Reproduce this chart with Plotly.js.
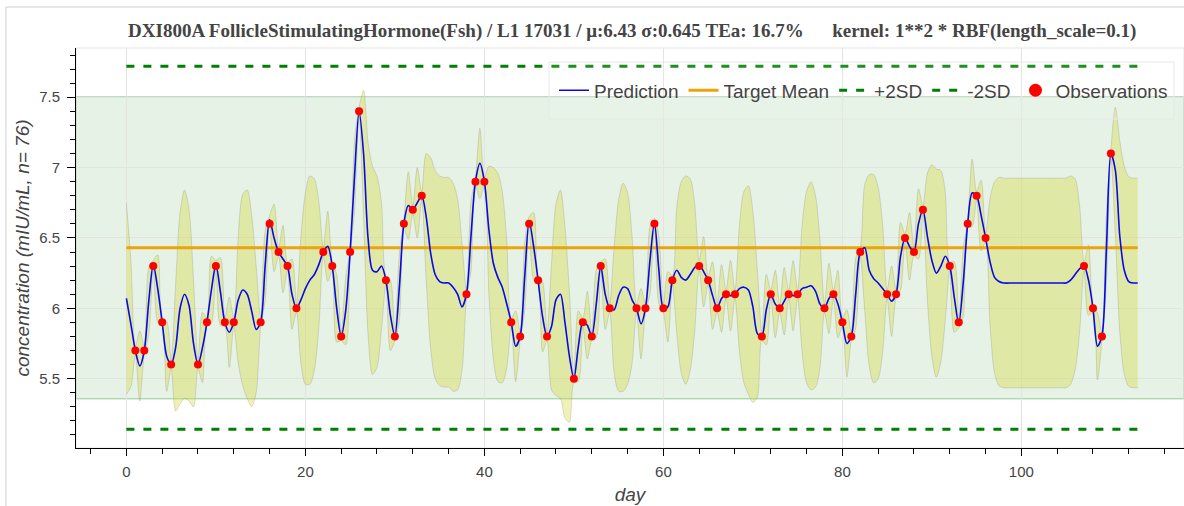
<!DOCTYPE html>
<html>
<head>
<meta charset="utf-8">
<script src="https://cdn.plot.ly/plotly-3.0.1.min.js"></script>
<style>
html,body{margin:0;padding:0;background:#fff;}
#chart{width:1184px;height:506px;}
</style>
</head>
<body>
<div id="chart"></div>
<script>
// ---- statistics from the title ----
const mu = 6.43;
const sigma = 0.645;
const teaPct = 16.7;
const dayStart = 0;
const dayEnd = 113;

// ---- observations (day, concentration) ----
const obsDay = [1,2,3,4,5, 8,9,10,11,12, 15,16,17,18,19, 22,23,24,25,26, 29,30,31,32,33,
  38,39,40, 43,44,45,46,47, 50,51,52,53,54, 57,58,59,60,61, 64,65,66,67,68,
  71,72,73,74,75, 78,79,80,81,82, 85,86,87,88,89, 92,93,94,95,96, 107,108,109,110];
const obsVal = [5.7,5.7,6.3,5.9,5.6, 5.6,5.9,6.3,5.9,5.9, 5.9,6.6,6.4,6.3,6.0, 6.4,6.3,5.8,6.4,7.4,
  6.2,5.8,6.6,6.7,6.8, 6.1,6.9,6.9, 5.9,5.8,6.6,6.2,5.8, 5.5,5.9,5.8,6.3,6.0,
  6.0,6.0,6.6,6.0,6.2, 6.3,6.2,6.0,6.1,6.1, 5.8,6.1,6.0,6.1,6.1, 6.0,6.1,5.9,5.8,6.4,
  6.1,6.1,6.5,6.4,6.7, 6.3,5.9,6.6,6.8,6.5, 6.3,6.0,5.8,7.1];

// ---- GP prediction and confidence band ----
const day = [0,0.5,1,1.5,2,2.5,3,3.5,4,4.5,5,5.5,6,6.5,7,7.5,8,8.5,9,9.5,10,10.5,11,11.5,12,12.5,13,13.5,14,14.5,
  15,15.5,16,16.5,17,17.5,18,18.5,19,19.5,20,20.5,21,21.5,22,22.5,23,23.5,24,24.5,25,25.5,26,26.5,27,27.5,28,28.5,29,29.5,
  30,30.5,31,31.5,32,32.5,33,33.5,34,34.5,35,35.5,36,36.5,37,37.5,38,38.5,39,39.5,40,40.5,41,41.5,42,42.5,43,43.5,44,44.5,
  45,45.5,46,46.5,47,47.5,48,48.5,49,49.5,50,50.5,51,51.5,52,52.5,53,53.5,54,54.5,55,55.5,56,56.5,57,57.5,58,58.5,59,59.5,
  60,60.5,61,61.5,62,62.5,63,63.5,64,64.5,65,65.5,66,66.5,67,67.5,68,68.5,69,69.5,70,70.5,71,71.5,72,72.5,73,73.5,74,74.5,
  75,75.5,76,76.5,77,77.5,78,78.5,79,79.5,80,80.5,81,81.5,82,82.5,83,83.5,84,84.5,85,85.5,86,86.5,87,87.5,88,88.5,89,89.5,
  90,90.5,91,91.5,92,92.5,93,93.5,94,94.5,95,95.5,96,96.5,97,97.5,98,99,100,101,102,103,104,104.5,
  105,105.5,106,106.5,107,107.5,108,108.5,109,109.5,110,110.5,111,111.5,112,112.5,113];

const pred = [6.07,5.89,5.70,5.59,5.70,6.05,6.31,6.14,5.90,5.66,5.60,5.72,6.00,6.10,6.02,5.75,5.60,5.72,5.90,6.13,6.31,6.12,5.90,5.83,5.90,6.06,6.13,6.10,5.98,5.85,
  5.90,6.30,6.63,6.50,6.40,6.35,6.30,6.10,6.00,6.06,6.14,6.20,6.24,6.31,6.40,6.44,6.30,6.00,5.80,5.98,6.40,6.95,7.40,7.10,6.50,6.27,6.26,6.30,6.20,5.95,
  5.80,6.15,6.60,6.73,6.70,6.75,6.80,6.65,6.39,6.24,6.19,6.18,6.18,6.15,6.10,6.01,6.10,6.51,6.90,7.03,6.90,6.56,6.32,6.22,6.15,6.03,5.90,5.73,5.80,6.22,
  6.62,6.44,6.20,5.94,5.80,5.87,6.06,6.10,5.90,5.66,5.50,5.73,5.90,5.88,5.80,6.03,6.30,6.10,6.00,5.99,6.09,6.15,6.14,6.06,6.00,5.89,6.00,6.34,6.61,6.27,
  6.00,6.01,6.20,6.27,6.22,6.20,6.24,6.29,6.31,6.26,6.20,6.09,6.00,6.07,6.10,6.09,6.10,6.14,6.15,6.13,6.01,5.82,5.80,5.99,6.10,6.03,6.00,6.05,6.10,6.09,
  6.10,6.14,6.15,6.16,6.12,6.03,6.00,6.07,6.10,6.03,5.90,5.75,5.80,6.11,6.40,6.43,6.27,6.21,6.18,6.14,6.10,6.05,6.10,6.37,6.50,6.44,6.40,6.60,6.70,6.51,
  6.34,6.25,6.30,6.37,6.30,6.08,5.89,6.18,6.60,6.82,6.80,6.66,6.50,6.33,6.22,6.19,6.18,6.18,6.18,6.18,6.18,6.18,6.18,6.18,
  6.18,6.20,6.24,6.28,6.30,6.20,6.00,5.73,5.80,6.42,7.10,6.98,6.51,6.27,6.19,6.18,6.18];

const upper = [6.75,6.34,5.73,5.84,5.73,6.29,6.34,6.38,5.93,5.91,5.63,6.17,6.68,6.84,6.70,6.20,5.63,5.97,5.93,6.37,6.34,6.36,5.93,6.08,5.93,6.51,6.81,6.84,6.66,6.30,
  5.93,6.55,6.66,6.74,6.43,6.59,6.33,6.35,6.03,6.51,6.82,6.94,6.92,6.76,6.43,6.69,6.33,6.24,5.83,6.22,6.43,7.20,7.43,7.55,7.18,7.01,6.94,6.75,6.23,6.20,
  5.83,6.39,6.63,6.97,6.73,7.00,6.83,7.10,7.07,6.98,6.94,6.93,6.93,6.89,6.78,6.46,6.13,6.76,6.93,7.28,6.93,7.01,7.00,6.96,6.83,6.48,5.93,5.98,5.83,6.46,
  6.65,6.68,6.23,6.19,5.83,6.32,6.74,6.84,6.58,6.11,5.53,5.98,5.93,6.12,5.83,6.27,6.33,6.35,6.03,6.44,6.77,6.89,6.82,6.51,6.03,6.14,6.03,6.58,6.64,6.51,
  6.03,6.26,6.23,6.72,6.90,6.94,6.92,6.74,6.34,6.51,6.23,6.33,6.03,6.31,6.13,6.34,6.13,6.59,6.83,6.87,6.69,6.27,5.83,6.24,6.13,6.27,6.03,6.29,6.13,6.34,
  6.13,6.59,6.83,6.90,6.80,6.48,6.03,6.32,6.13,6.27,5.93,5.99,5.83,6.36,6.43,6.88,6.95,6.95,6.86,6.59,6.13,6.30,6.13,6.61,6.53,6.68,6.43,6.85,6.73,6.96,
  7.02,6.99,6.98,6.82,6.33,6.33,5.92,6.42,6.63,7.06,6.83,6.91,6.53,6.78,6.90,6.93,6.925,6.925,6.925,6.925,6.925,6.925,6.925,6.925,
  6.925,6.94,6.92,6.73,6.33,6.45,6.03,5.97,5.83,6.67,7.13,7.43,7.19,7.01,6.935,6.925,6.925];

const lower = [5.39,5.44,5.67,5.34,5.67,5.81,6.28,5.90,5.87,5.41,5.57,5.27,5.32,5.36,5.34,5.30,5.57,5.47,5.87,5.89,6.28,5.88,5.87,5.58,5.87,5.61,5.45,5.36,5.30,5.40,
  5.87,6.05,6.60,6.26,6.37,6.11,6.27,5.85,5.97,5.61,5.46,5.46,5.56,5.86,6.37,6.19,6.27,5.76,5.77,5.74,6.37,6.70,7.37,6.65,5.82,5.53,5.58,5.85,6.17,5.70,
  5.77,5.91,6.57,6.49,6.67,6.50,6.77,6.20,5.71,5.50,5.45,5.44,5.44,5.41,5.42,5.56,6.07,6.26,6.87,6.78,6.87,6.11,5.64,5.48,5.47,5.58,5.87,5.48,5.77,5.98,
  6.59,6.20,6.17,5.69,5.77,5.42,5.38,5.36,5.22,5.19,5.47,5.48,5.87,5.64,5.77,5.79,6.27,5.85,5.97,5.54,5.41,5.41,5.46,5.61,5.97,5.64,5.97,6.10,6.58,6.03,
  5.97,5.76,6.17,5.82,5.54,5.46,5.56,5.84,6.28,6.01,6.17,5.85,5.97,5.83,6.07,5.84,6.07,5.69,5.47,5.39,5.33,5.37,5.77,5.74,6.07,5.79,5.97,5.81,6.07,5.84,
  6.07,5.69,5.47,5.42,5.44,5.58,5.97,5.82,6.07,5.79,5.87,5.51,5.77,5.86,6.37,5.98,5.59,5.47,5.50,5.69,6.07,5.80,6.07,6.13,6.47,6.20,6.37,6.35,6.67,6.06,
  5.66,5.51,5.62,5.92,6.27,5.83,5.86,5.94,6.57,6.58,6.77,6.41,6.47,5.88,5.54,5.45,5.435,5.435,5.435,5.435,5.435,5.435,5.435,5.435,
  5.435,5.46,5.56,5.83,6.27,5.95,5.97,5.49,5.77,6.17,7.07,6.53,5.83,5.53,5.445,5.435,5.435];

// ---- derived reference levels ----
const plus2 = mu + 2 * sigma;
const minus2 = mu - 2 * sigma;
const teaLow = mu * (1 - teaPct / 100);
const teaHigh = mu * (1 + teaPct / 100);

const titleText = '<b>DXI800A FollicleStimulatingHormone(Fsh) / L1 17031 / μ:' + mu + ' σ:' + sigma +
  ' TEa: ' + teaPct + '%&nbsp;&nbsp;&nbsp;&nbsp;&nbsp;&nbsp;kernel: 1**2 * RBF(length_scale=0.1)</b>';

const bandLine = {color: 'rgba(110,110,110,0.22)', width: 1, shape: 'spline', smoothing: 0.8};

const data = [
  {x: day, y: lower, type: 'scatter', mode: 'lines', line: bandLine, showlegend: false, hoverinfo: 'skip'},
  {x: day, y: upper, type: 'scatter', mode: 'lines', line: bandLine, fill: 'tonexty',
   fillcolor: 'rgba(215,215,45,0.34)', showlegend: false, hoverinfo: 'skip'},
  {x: [dayStart, dayEnd], y: [mu, mu], type: 'scatter', mode: 'lines', name: 'Target Mean',
   line: {color: '#eba40c', width: 3}, legendrank: 2},
  {x: [dayStart, dayEnd], y: [plus2, plus2], type: 'scatter', mode: 'lines', name: '+2SD',
   line: {color: '#008000', width: 3, dash: '8px,9px'}, legendrank: 3},
  {x: [dayStart, dayEnd], y: [minus2, minus2], type: 'scatter', mode: 'lines', name: '-2SD',
   line: {color: '#008000', width: 3, dash: '8px,9px'}, legendrank: 4},
  {x: day, y: pred, type: 'scatter', mode: 'lines', name: 'Prediction',
   line: {color: '#0808ea', width: 1.6, shape: 'spline', smoothing: 0.8}, legendrank: 1},
  {x: obsDay, y: obsVal, type: 'scatter', mode: 'markers', name: 'Observations', showlegend: false,
   marker: {color: '#ff0000', size: 8}},
  {x: [null], y: [null], type: 'scatter', mode: 'markers', name: 'Observations',
   marker: {color: '#ff0000', size: 13}, legendrank: 5}
];

const tickFont = {family: 'Liberation Sans, Arial, sans-serif', size: 15, color: '#444'};
const labelFont = {family: 'Liberation Sans, Arial, sans-serif', size: 19, color: '#444'};

const layout = {
  width: 1184, height: 506,
  margin: {l: 76, r: 0, t: 48, b: 58, pad: 0},
  paper_bgcolor: '#fff', plot_bgcolor: '#fff',
  title: {text: titleText, x: 0.534, xanchor: 'center', y: 0.94, yanchor: 'middle', yref: 'container',
    font: {family: 'Liberation Serif, Times New Roman, serif', size: 19, color: '#444'}},
  showlegend: true,
  legend: {orientation: 'h', traceorder: 'normal', x: 0.4314, xanchor: 'left', y: 0.894, yanchor: 'middle',
    bgcolor: 'rgba(0,0,0,0)', borderwidth: 0, font: labelFont, tracegroupgap: 0},
  xaxis: {
    range: [-5.63, 118.17], autorange: false,
    title: {text: '<i>day</i>', font: labelFont, standoff: 8},
    tickmode: 'linear', tick0: 0, dtick: 20,
    ticks: 'outside', ticklen: 7, tickwidth: 1, tickcolor: '#000',
    minor: {tickmode: 'linear', tick0: 0, dtick: 4, ticks: 'outside', ticklen: 5, tickcolor: '#000', showgrid: false},
    showline: true, linecolor: '#000', linewidth: 1,
    showgrid: true, gridcolor: '#e3e3e3', gridwidth: 1, zeroline: false,
    tickfont: tickFont, ticklabelstandoff: 3
  },
  yaxis: {
    range: [5.007, 7.85], autorange: false,
    title: {text: '<i>concentration (mIU/mL, n= 76)</i>', font: labelFont, standoff: 4},
    tickmode: 'linear', tick0: 5.5, dtick: 0.5,
    ticks: 'outside', ticklen: 8, tickwidth: 1, tickcolor: '#000',
    minor: {tickmode: 'linear', tick0: 5, dtick: 0.1, ticks: 'outside', ticklen: 5, tickcolor: '#000', showgrid: false},
    showline: true, linecolor: '#000', linewidth: 1,
    showgrid: true, gridcolor: '#e3e3e3', gridwidth: 1, zeroline: false,
    tickfont: tickFont, ticklabelstandoff: 4
  },
  shapes: [
    {type: 'rect', xref: 'paper', yref: 'y', x0: 0, x1: 1, y0: teaLow, y1: teaHigh, layer: 'between',
     fillcolor: 'rgba(0,128,0,0.1)', line: {color: 'rgba(0,128,0,0.25)', width: 1.5}},
    {type: 'rect', xref: 'paper', yref: 'paper', x0: 0, x1: 1, y0: 0, y1: 1, layer: 'below',
     fillcolor: 'rgba(0,0,0,0)', line: {color: '#e5e5e5', width: 1}},
    {type: 'rect', xref: 'paper', yref: 'paper', x0: 0.4269, x1: 0.991, y0: 0.8225, y1: 0.965, layer: 'above',
     fillcolor: 'rgba(255,255,255,0.12)', line: {color: '#e8e8e8', width: 1}},
    {type: 'rect', xref: 'paper', yref: 'paper', x0: -0.0632, x1: 1.1, y0: -0.3, y1: 1.1025, layer: 'below',
     fillcolor: 'rgba(0,0,0,0)', line: {color: '#d0d0d0', width: 1}}
  ]
};

Plotly.newPlot('chart', data, layout, {displayModeBar: false, staticPlot: true});
</script>
</body>
</html>
